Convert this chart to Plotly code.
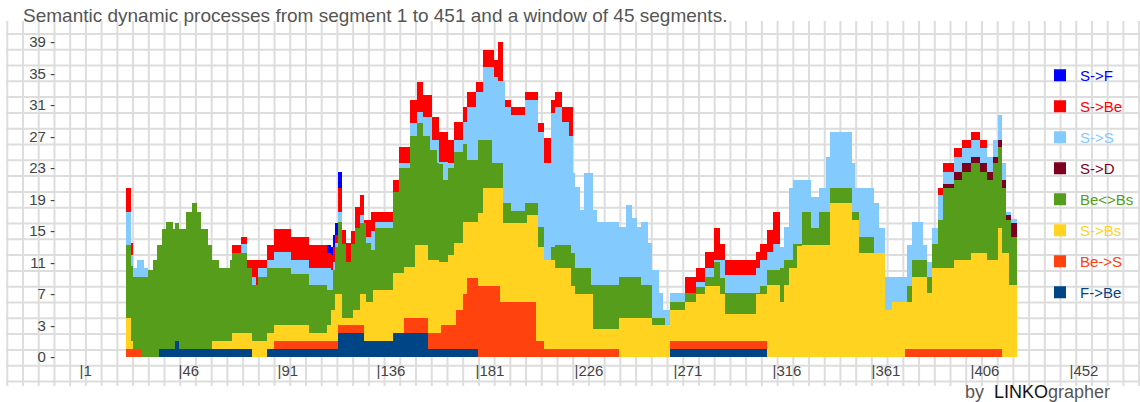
import numpy as np
import plotly.graph_objects as go

# ---------------- data ----------------
# Segments shown (window of 45 segments over segments 1..451)
SEG_FIRST, SEG_LAST = 23, 427

# Each layer is read as the level of its upper edge in the stacked chart,
# stored as step runs: (first segment of run, level). 0 = layer absent.
top_F_Be_seg = [23, 38, 45, 47, 80, 87, 119, 131, 144, 160, 183, 270, 314]
top_F_Be_val = [0, 1, 2, 1, 0, 1, 3, 2, 3, 1, 0, 1, 0]

top_Be_S_seg = [23, 30, 90, 119, 131, 149, 160, 166, 173, 176, 178, 183, 193, 209, 213, 247, 270, 314, 377, 421]
top_Be_S_val = [1, 0, 2, 4, 0, 5, 3, 4, 6, 8, 10, 9, 7, 2, 1, 0, 2, 0, 1, 0]

top_S_Bs_seg = [23, 25, 26, 62, 71, 80, 87, 90, 106, 114, 116, 118, 121, 126, 129, 132, 135, 144, 149, 154,
                160, 165, 169, 172, 176, 183, 185, 194, 205, 210, 213, 218, 225, 227, 235, 247, 262, 270, 277,
                282, 286, 293, 295, 309, 314, 320, 322, 324, 328, 343, 353, 356, 368, 371, 380, 387, 389, 399,
                407, 414, 419, 421, 424, 428]
top_S_Bs_val = [5, 2, 0, 2, 3, 2, 3, 4, 3, 4, 6, 8, 5, 6, 8, 7, 8.5, 10.6, 11.4, 14.2,
                12.3, 12, 13, 14.5, 17.1, 18.3, 21.4, 17, 18, 14, 12.3, 11.3, 9, 8, 3.5, 5, 4, 6, 7,
                8, 9, 8, 5.5, 8, 9.1, 7, 9.1, 11.3, 14.2, 19.5, 17.4, 13.2, 6, 7, 10.1, 8.1, 11.3, 12.3,
                13.2, 12.3, 16.4, 13.2, 9.1, 0]

top_Be_Bs_seg = [23, 25, 26, 33, 35, 37, 39, 41, 44, 45, 47, 50, 53, 55, 57, 60, 62, 65, 70, 71, 78, 80, 83,
                 87, 98, 106, 114, 117, 118, 119, 121, 123, 125, 127, 129, 132, 134, 136, 144, 147, 152, 155,
                 158, 161, 164, 167, 169, 172, 176, 178, 183, 189, 194, 198, 204, 210, 213, 216, 218, 225,
                 227, 234, 247, 257, 262, 268, 270, 277, 282, 286, 290, 293, 295, 311, 314, 320, 322, 326,
                 330, 334, 338, 343, 353, 356, 363, 378, 380, 387, 389, 392, 394, 399, 403, 407, 411, 414,
                 417, 419, 421, 423, 425, 428]
top_Be_Bs_val = [14.2, 11.5, 10.2, 11, 12.3, 14.2, 16.2, 17.1, 16.2, 17, 16.2, 18.4, 19.5, 18.4, 16.2, 14.2,
                 12.3, 11.3, 12.3, 13.2, 11.3, 9.1, 10.1, 11.3, 10.5, 9.1, 8.5, 11, 14, 17.1, 14.4, 12, 14.4,
                 16.4, 17, 14.5, 13.6, 16.4, 21, 24, 28, 29.7, 28, 26.3, 24.6, 22.5, 24, 26, 27, 25, 27.5,
                 24.6, 19.5, 18.5, 19.5, 16.5, 0, 14, 14.2, 13.2, 11.3, 9.1, 10.1, 9.1, 5, 0, 7, 8.1, 8.9,
                 10.1, 12, 10, 8.1, 9, 11, 11.3, 12.3, 14.4, 18.4, 16.4, 18.4, 21.4, 18.4, 15.2, 0, 9, 12.3,
                 10.1, 14.4, 17.4, 21.4, 22.5, 23.5, 24.6, 23.5, 22.5, 24.6, 26.7, 21.4, 17.4, 15.2, 0]

top_S_D_seg = [23, 394, 399, 403, 407, 411, 414, 417, 419, 421, 423, 425, 428]
top_S_D_val = [0, 22, 23.5, 24.6, 25.4, 24.6, 23.5, 25.4, 27.5, 22.5, 18, 17, 0]

top_S_S_seg = [23, 25, 26, 28, 31, 33, 75, 78, 80, 82, 83, 87, 90, 98, 106, 116, 117, 118, 119, 121, 129, 131,
               134, 136, 144, 147, 152, 155, 158, 162, 165, 169, 172, 176, 178, 182, 185, 190, 192, 194, 195,
               198, 204, 210, 213, 216, 218, 221, 224, 226, 227, 229, 231, 235, 237, 247, 250, 253, 255, 257,
               260, 262, 265, 267, 270, 277, 282, 286, 290, 295, 309, 311, 314, 317, 320, 322, 324, 326, 334,
               338, 341, 343, 353, 354, 363, 365, 368, 378, 380, 385, 387, 389, 392, 394, 399, 403, 407, 411,
               414, 417, 419, 421, 423, 425, 428]
top_S_S_val = [18.4, 13, 11.3, 12.3, 11.3, 0, 14.3, 0, 10.1, 0, 11.3, 12.3, 13.3, 12.3, 11.3, 11, 12, 14.5,
               18.4, 0, 18, 15.2, 16, 17.1, 0, 24.6, 29.7, 31.1, 30.4, 27.5, 24.7, 24.6, 27.5, 29.8, 31.7, 33.6,
               36.8, 35.5, 35, 34.9, 31.7, 30.7, 32.6, 28.5, 24.6, 31, 31.7, 29.8, 28, 23.3, 21.6, 18.6, 23.3,
               18.6, 17.1, 16.5, 19.3, 17.7, 16.5, 17.1, 14.5, 11, 8.1, 6, 8.1, 0, 9.5, 11.3, 12.3, 10.4, 11.3,
               12.3, 13.3, 14.4, 14, 16.5, 21.4, 22.5, 20.3, 21.4, 25.4, 28.5, 24.6, 21.4, 19.5, 16.4, 10.1,
               14.2, 17.1, 14.2, 12, 16.4, 20.5, 23.5, 25.4, 26.5, 27.5, 26.5, 25.4, 27.5, 30.7, 24.6, 18.4,
               17.5, 0]

top_S_Be_seg = [23, 25, 26, 71, 75, 78, 83, 87, 90, 98, 106, 114, 116, 117, 118, 119, 121, 123, 125, 127, 129,
                131, 134, 144, 147, 152, 155, 158, 162, 165, 169, 172, 176, 178, 182, 185, 190, 192, 194, 195,
                198, 204, 210, 213, 216, 218, 221, 226, 277, 282, 286, 290, 293, 295, 309, 311, 314, 317, 320,
                392, 394, 399, 403, 407, 411, 414]
top_S_Be_val = [21.4, 14.5, 0, 14.2, 15.2, 12.3, 12.3, 14.2, 16.2, 15.2, 14.2, 13.2, 13, 14, 15.5, 21.4, 16.1,
                14.5, 16, 19, 20.6, 17.4, 18.4, 22.5, 26.7, 32.6, 34.9, 33.3, 30.5, 28.5, 27.5, 29.8, 31.7,
                33.6, 34.9, 39, 37.7, 40, 0, 32.6, 31.7, 33.6, 29.7, 27.8, 32.6, 33.6, 31.7, 0, 10.1, 11.3,
                13.3, 16.4, 14.4, 12.3, 13.3, 14.4, 16.1, 18.4, 0, 21.4, 24.6, 26.5, 27.5, 28.5, 27.5, 0]

top_S_F_seg = [23, 114, 116, 117, 118, 119, 121]
top_S_F_val = [0, 14.2, 14, 15.5, 17, 23.5, 0]

# Series, bottom of the stack first
SERIES = ["F->Be", "Be->S", "S->Bs", "Be<>Bs", "S->D", "S->S", "S->Be", "S->F"]
LEGEND_TEXT = ["F-&gt;Be", "Be-&gt;S", "S-&gt;Bs", "Be&lt;&gt;Bs", "S-&gt;D", "S-&gt;S", "S-&gt;Be", "S-&gt;F"]
COLORS = ["#004586", "#ff420e", "#ffd320", "#579d1c", "#7e0021", "#83caff", "#ff0000", "#0000ff"]

TOP_RUNS = [
    (top_F_Be_seg, top_F_Be_val), (top_Be_S_seg, top_Be_S_val), (top_S_Bs_seg, top_S_Bs_val),
    (top_Be_Bs_seg, top_Be_Bs_val), (top_S_D_seg, top_S_D_val), (top_S_S_seg, top_S_S_val),
    (top_S_Be_seg, top_S_Be_val), (top_S_F_seg, top_S_F_val),
]

# Axis ticks (as printed in the reference)
X_TICKS = [1, 46, 91, 136, 181, 226, 271, 316, 361, 406, 451]
X_TICK_TEXT = ["|1", "|46", "|91", "|136", "|181", "|226", "|271", "|316", "|361", "|406", "|452"]
Y_TICKS = [0, 4, 8, 12, 16, 20, 24, 28, 32, 36, 40]
Y_TICK_TEXT = ["0 -", "3 -", "7 -", "11 -", "15 -", "19 -", "23 -", "27 -", "31 -", "35 -", "39 -"]

TITLE = "Semantic dynamic processes from segment 1 to 451 and a window of 45 segments."

# ---------------- build series ----------------
segments = np.arange(SEG_FIRST, SEG_LAST + 1)


def expand(starts, vals):
    idx = np.searchsorted(np.array(starts), segments, side="right") - 1
    return np.array(vals, dtype=float)[idx]


tops = np.vstack([expand(s, v) for s, v in TOP_RUNS])
tops = np.maximum.accumulate(tops, axis=0)
values = np.diff(np.vstack([np.zeros(len(segments)), tops]), axis=0)

# ---------------- figure geometry (page pixels) ----------------
W, H = 1140, 402
# plot area: x 56..1135, y 22..357
ML, MT = 56, 22
MB = H - 357
MR = W - 1135
PW, PH = W - ML - MR, H - MT - MB
PX_PER_SEG = 2.2
x_lo = 1 - (79 - ML) / PX_PER_SEG
x_hi = x_lo + PW / PX_PER_SEG
y_hi = PH / 7.88

FONT = "Liberation Sans, Arial, sans-serif"


def px2paper_x(px):
    return (px - ML) / PW


def py2paper_y(py):
    return (H - MB - py) / PH


fig = go.Figure()
for i, name in enumerate(SERIES):
    fig.add_trace(go.Bar(
        x=segments, y=values[i], width=1.0,
        name=f"<span style='color:{COLORS[i]}'>{LEGEND_TEXT[i]}</span>",
        legendgroup=name, legendrank=len(SERIES) - i,
        marker=dict(color=COLORS[i], line=dict(width=0)),
        hovertemplate=name + " segment %{x}: %{y}<extra></extra>",
    ))

# background grid (decorative squared paper, page pixels -> paper units)
path = []
for k in range(0, 73):
    px = 7.3 + 15.72 * k
    if px > W:
        break
    path.append(f"M{px2paper_x(px):.5f},{py2paper_y(21):.5f}L{px2paper_x(px):.5f},{py2paper_y(386):.5f}")
for k in range(-2, 21):
    py = 65.5 + 15.8 * k
    path.append(f"M{px2paper_x(6):.5f},{py2paper_y(py):.5f}L{px2paper_x(W):.5f},{py2paper_y(py):.5f}")

fig.add_shape(type="path", path="".join(path), xref="paper", yref="paper",
              line=dict(color="rgb(221,221,221)", width=2), layer="below")

fig.update_layout(
    width=W, height=H,
    margin=dict(l=ML, r=MR, t=MT, b=MB, autoexpand=False),
    paper_bgcolor="white", plot_bgcolor="rgba(0,0,0,0)",
    barmode="stack", bargap=0,
    font=dict(family=FONT, color="#444"),
    title=dict(text=TITLE, x=23 / W, xanchor="left", xref="container",
               y=1 - 15 / H, yanchor="middle", yref="container",
               font=dict(size=19, color="#555", family=FONT)),
    xaxis=dict(range=[x_lo, x_hi], tickvals=X_TICKS, ticktext=X_TICK_TEXT,
               ticklabelposition="outside right", showgrid=False, zeroline=False, showline=False,
               ticks="outside", ticklen=6, tickcolor="rgba(0,0,0,0)",
               tickfont=dict(size=15, color="#444"), automargin=False),
    yaxis=dict(range=[0, y_hi], tickvals=Y_TICKS, ticktext=Y_TICK_TEXT,
               showgrid=False, zeroline=False, showline=False,
               tickfont=dict(size=15, color="#444"), automargin=False),
    legend=dict(x=px2paper_x(1040), y=py2paper_y(59), xanchor="left", yanchor="top",
                traceorder="grouped", tracegroupgap=8.5,
                bgcolor="rgba(0,0,0,0)", font=dict(size=15, family=FONT)),
    showlegend=True,
    annotations=[dict(
        text="by  <span style='color:#111'>LINKO</span>grapher",
        xref="paper", yref="paper", x=px2paper_x(963), y=py2paper_y(392),
        xanchor="left", yanchor="middle", showarrow=False,
        font=dict(size=18, color="#555", family=FONT))],
)

# remove the browser's default 8px page margin so the figure fills the window exactly
fig.write_html("out.html", config={"displayModeBar": False},
               post_script="document.body.style.margin='0';")
